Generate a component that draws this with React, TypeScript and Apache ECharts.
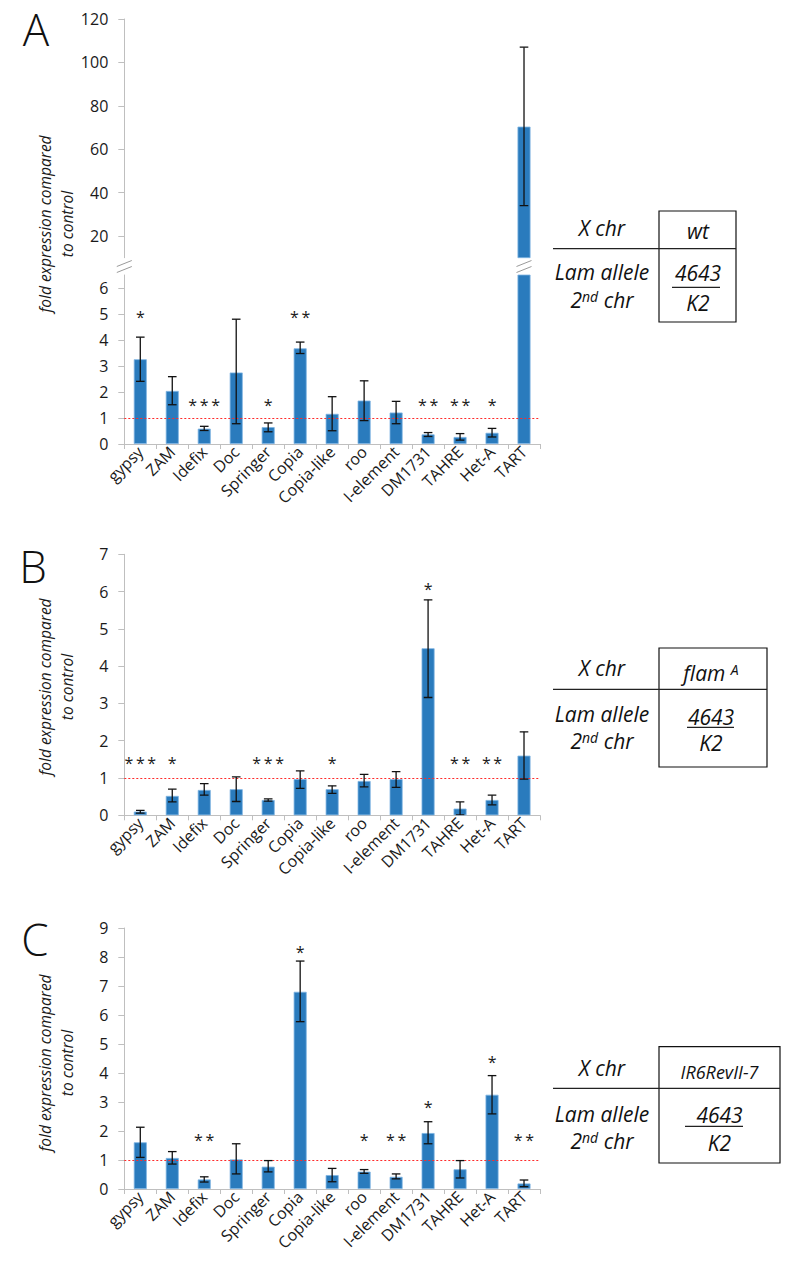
import React, { useEffect, useRef } from "react";
import * as echarts from "echarts";

const categories = ["gypsy", "ZAM", "Idefix", "Doc", "Springer", "Copia", "Copia-like", "roo", "I-element", "DM1731", "TAHRE", "Het-A", "TART"];

// Panel A  (X chr: wt)
const meanA = [3.26, 2.04, 0.59, 2.75, 0.65, 3.68, 1.16, 1.67, 1.21, 0.37, 0.27, 0.43, 70.4];
const upperA = [4.11, 2.59, 0.68, 4.8, 0.81, 3.92, 1.82, 2.43, 1.64, 0.44, 0.4, 0.6, 107];
const lowerA = [2.41, 1.51, 0.52, 0.78, 0.47, 3.48, 0.51, 0.9, 0.78, 0.29, 0.15, 0.27, 34];
const starsA = ["*", "", "***", "", "*", "**", "", "", "", "**", "**", "*", ""];
const starLevelA = [5.0, 0, 1.63, 0, 1.63, 5.0, 0, 0, 0, 1.63, 1.63, 1.63, 0];
const ticksATop = [20, 40, 60, 80, 100, 120];
const ticksABottom = [0, 1, 2, 3, 4, 5, 6];

// Panel B  (X chr: flam A)
const meanB = [0.1, 0.52, 0.68, 0.7, 0.41, 0.97, 0.7, 0.92, 0.97, 4.48, 0.18, 0.41, 1.6];
const upperB = [0.13, 0.7, 0.85, 1.03, 0.44, 1.19, 0.79, 1.1, 1.17, 5.78, 0.36, 0.54, 2.24];
const lowerB = [0.06, 0.36, 0.54, 0.37, 0.38, 0.72, 0.59, 0.76, 0.75, 3.16, 0.01, 0.28, 0.97];
const starsB = ["***", "*", "", "", "***", "", "*", "", "", "*", "**", "**", ""];
const starLevelB = [1.48, 1.48, 0, 0, 1.48, 0, 1.48, 0, 0, 6.16, 1.48, 1.48, 0];
const ticksB = [0, 1, 2, 3, 4, 5, 6, 7];

// Panel C  (X chr: IR6RevII-7)
const meanC = [1.61, 1.07, 0.33, 1.02, 0.77, 6.8, 0.48, 0.6, 0.42, 1.93, 0.68, 3.25, 0.19];
const upperC = [2.13, 1.29, 0.42, 1.56, 0.98, 7.86, 0.71, 0.67, 0.52, 2.32, 0.98, 3.91, 0.31];
const lowerC = [1.09, 0.86, 0.24, 0.52, 0.59, 5.77, 0.25, 0.54, 0.35, 1.56, 0.38, 2.59, 0.08];
const starsC = ["", "", "**", "", "", "*", "", "*", "**", "*", "", "*", "**"];
const starLevelC = [0, 0, 1.78, 0, 0, 8.28, 0, 1.78, 1.78, 2.94, 0, 4.47, 1.78];
const ticksC = [0, 1, 2, 3, 4, 5, 6, 7, 8, 9];

const controlLevel = 1;
const yTitle = "fold expression compared\nto control";

const FONT = "'Open Sans', 'Liberation Sans', sans-serif";
const AXIS_GREY = "#bfbfbf";
const TEXT = "#1a1a1a";
const BAR = "#2a7bbd";

const GRID_LEFT = 124.3;
const GRID_W = 415.7;

function makeX(gridIndex: number, show: boolean) {
  return {
    type: "category",
    gridIndex,
    data: categories,
    show,
    boundaryGap: true,
    axisLine: { show: true, lineStyle: { color: AXIS_GREY, width: 1 } },
    axisTick: { show: true, length: 5, lineStyle: { color: AXIS_GREY } },
    axisLabel: { show: true, rotate: 45, interval: 0, fontSize: 16, color: TEXT, fontFamily: FONT, margin: 5 },
    splitLine: { show: false },
  };
}

function makeY(gridIndex: number, min: number, max: number, ticks: number[]) {
  return {
    type: "value",
    gridIndex,
    min,
    max,
    axisLine: { show: true, lineStyle: { color: AXIS_GREY, width: 1 } },
    axisTick: { show: true, length: 6, customValues: ticks, lineStyle: { color: AXIS_GREY } },
    axisLabel: { customValues: ticks, fontSize: 16, color: TEXT, fontFamily: FONT, margin: 16 },
    splitLine: { show: false },
  };
}

function barSeries(idx: number, values: number[], withLine: boolean) {
  const s: any = {
    type: "bar",
    xAxisIndex: idx,
    yAxisIndex: idx,
    data: values,
    barWidth: 13,
    clip: true,
    itemStyle: { color: BAR, borderColor: "#7db4e2", borderWidth: 0.8 },
    silent: true,
  };
  if (withLine) {
    s.markLine = {
      silent: true,
      symbol: ["none", "none"],
      label: { show: false },
      lineStyle: { color: "#ff2a2a", type: [2, 2], width: 1, opacity: 1 },
      emphasis: { disabled: true },
      data: [{ yAxis: controlLevel }],
    };
  }
  return s;
}

function errorSeries(idx: number, lower: number[], upper: number[], keep: (i: number) => boolean) {
  const data: number[][] = [];
  lower.forEach((lo, i) => {
    if (keep(i)) data.push([i, lo, upper[i]]);
  });
  return {
    type: "custom",
    xAxisIndex: idx,
    yAxisIndex: idx,
    clip: true,
    silent: true,
    z: 5,
    encode: { x: 0, y: [1, 2] },
    data,
    renderItem: (_params: any, api: any) => {
      const x = api.value(0);
      const pHi = api.coord([x, api.value(2)]);
      const pLo = api.coord([x, api.value(1)]);
      const hw = 4.3;
      const style = { stroke: "#111", lineWidth: 1.3 };
      return {
        type: "group",
        children: [
          { type: "line", shape: { x1: pHi[0], y1: pHi[1], x2: pLo[0], y2: pLo[1] }, style },
          { type: "line", shape: { x1: pHi[0] - hw, y1: pHi[1], x2: pHi[0] + hw, y2: pHi[1] }, style },
          { type: "line", shape: { x1: pLo[0] - hw, y1: pLo[1], x2: pLo[0] + hw, y2: pLo[1] }, style },
        ],
      };
    },
  };
}

function starSeries(idx: number, stars: string[], levels: number[]) {
  const data: number[][] = [];
  const texts: string[] = [];
  stars.forEach((s, i) => {
    if (s) {
      data.push([i, levels[i]]);
      texts.push(s.split("").join("\u2009"));
    }
  });
  return {
    type: "custom",
    xAxisIndex: idx,
    yAxisIndex: idx,
    silent: true,
    z: 6,
    encode: { x: 0, y: 1 },
    data,
    renderItem: (params: any, api: any) => {
      const p = api.coord([api.value(0), api.value(1)]);
      return {
        type: "text",
        x: p[0],
        y: p[1] + 3,
        style: {
          text: texts[params.dataIndex],
          fill: TEXT,
          fontSize: 16,
          fontFamily: FONT,
          align: "center",
          verticalAlign: "middle",
        },
      };
    },
  };
}

function tableGraphics(cfg: {
  top: number; bottom: number; mid: number; right: number;
  rowX: number; rowY1: number; rowY2a: number; rowY2b: number;
  boxCx: number; labelY: number; label: string; labelSize: number; sup?: string;
  numY: number; fracY: number; fracX1: number; fracX2: number; denY: number;
}) {
  const boxLeft = 659;
  const ital = { fontStyle: "italic", fontFamily: FONT, fill: "#111" };
  const els: any[] = [
    { type: "rect", shape: { x: boxLeft, y: cfg.top, width: cfg.right - boxLeft, height: cfg.bottom - cfg.top }, style: { fill: "none", stroke: "#111", lineWidth: 1.2 } },
    { type: "line", shape: { x1: 553, y1: cfg.mid, x2: cfg.right, y2: cfg.mid }, style: { stroke: "#222", lineWidth: 1.2 } },
    { type: "text", x: cfg.rowX, y: cfg.rowY1, style: { text: "X chr", fontSize: 21, ...ital, align: "center", verticalAlign: "middle" } },
    { type: "text", x: cfg.rowX, y: cfg.rowY2a, style: { text: "Lam allele", fontSize: 21, ...ital, align: "center", verticalAlign: "middle" } },
    {
      type: "text", x: cfg.rowX, y: cfg.rowY2b,
      style: {
        text: "{a|2}{b|nd}{a| chr}",
        rich: { a: { fontSize: 21, ...ital }, b: { fontSize: 14, ...ital, verticalAlign: "top" } },
        align: "center", verticalAlign: "middle",
      },
    },
    cfg.sup
      ? {
          type: "text", x: cfg.boxCx, y: cfg.labelY,
          style: {
            text: "{a|" + cfg.label + " }{b|" + cfg.sup + "}",
            rich: { a: { fontSize: cfg.labelSize, ...ital }, b: { fontSize: 14, ...ital, verticalAlign: "top" } },
            align: "center", verticalAlign: "middle",
          },
        }
      : { type: "text", x: cfg.boxCx, y: cfg.labelY, style: { text: cfg.label, fontSize: cfg.labelSize, ...ital, align: "center", verticalAlign: "middle" } },
    { type: "text", x: cfg.boxCx, y: cfg.numY, style: { text: "4643", fontSize: 21, ...ital, align: "center", verticalAlign: "middle" } },
    { type: "line", shape: { x1: cfg.fracX1, y1: cfg.fracY, x2: cfg.fracX2, y2: cfg.fracY }, style: { stroke: "#222", lineWidth: 1.2 } },
    { type: "text", x: cfg.boxCx, y: cfg.denY, style: { text: "K2", fontSize: 21, ...ital, align: "center", verticalAlign: "middle" } },
  ];
  return els;
}

function breakMark(cx: number, cy: number) {
  const st = { stroke: "#9a9a9a", lineWidth: 1 };
  return [
    { type: "line", shape: { x1: cx - 7.5, y1: cy + 3, x2: cx + 7.5, y2: cy - 3 }, style: st },
    { type: "line", shape: { x1: cx - 7.5, y1: cy + 9, x2: cx + 7.5, y2: cy + 3 }, style: st },
  ];
}

function letter(t: string, x: number, y: number) {
  return { type: "text", x, y, style: { text: t, fontSize: 44, fontWeight: 300, fontFamily: FONT, fill: "#111", align: "center", verticalAlign: "middle" } };
}

function yTitleEl(cy: number) {
  return {
    type: "text",
    x: 56,
    y: cy,
    rotation: Math.PI / 2,
    style: { text: yTitle, fontSize: 15.5, fontStyle: "italic", fontFamily: FONT, fill: TEXT, align: "center", verticalAlign: "middle", lineHeight: 21.5 },
  };
}

export default function App() {
  const ref = useRef<HTMLDivElement>(null);
  useEffect(() => {
    document.body.style.margin = "0";
    if (!ref.current) return;
    const chart = echarts.init(ref.current, undefined, { renderer: "svg" });
    const broken = (i: number) => meanA[i] > 6.5;
    const option: any = {
      animation: false,
      backgroundColor: "#ffffff",
      grid: [
        { left: GRID_LEFT, top: 19, width: GRID_W, height: 238.7 },
        { left: GRID_LEFT, top: 275, width: GRID_W, height: 169 },
        { left: GRID_LEFT, top: 554.3, width: GRID_W, height: 261 },
        { left: GRID_LEFT, top: 928, width: GRID_W, height: 261 },
      ],
      xAxis: [makeX(0, false), makeX(1, true), makeX(2, true), makeX(3, true)],
      yAxis: [
        makeY(0, 10, 120, ticksATop),
        makeY(1, 0, 6.5, ticksABottom),
        makeY(2, 0, 7, ticksB),
        makeY(3, 0, 9, ticksC),
      ],
      series: [
        barSeries(0, meanA.map((v, i) => (broken(i) ? v : null)) as any, false),
        errorSeries(0, lowerA, upperA, broken),
        barSeries(1, meanA, true),
        errorSeries(1, lowerA, upperA, (i) => !broken(i)),
        starSeries(1, starsA, starLevelA),
        barSeries(2, meanB, true),
        errorSeries(2, lowerB, upperB, () => true),
        starSeries(2, starsB, starLevelB),
        barSeries(3, meanC, true),
        errorSeries(3, lowerC, upperC, () => true),
        starSeries(3, starsC, starLevelC),
      ],
      graphic: [
        letter("A", 36, 29),
        letter("B", 33, 566),
        letter("C", 35, 939),
        yTitleEl(224),
        yTitleEl(687),
        yTitleEl(1063),
        ...breakMark(124.3, 263.5),
        ...breakMark(GRID_LEFT + (GRID_W / 13) * 12.5, 263.5),
        ...tableGraphics({
          top: 211, bottom: 322, mid: 248.7, right: 736,
          rowX: 602, rowY1: 228, rowY2a: 272, rowY2b: 300,
          boxCx: 698, labelY: 231, label: "wt", labelSize: 21,
          numY: 273, fracY: 287.3, fracX1: 672, fracX2: 720, denY: 303,
        }),
        ...tableGraphics({
          top: 648, bottom: 767, mid: 689.3, right: 767,
          rowX: 602, rowY1: 668, rowY2a: 713.5, rowY2b: 741,
          boxCx: 711, labelY: 673, label: "flam", labelSize: 21, sup: "A",
          numY: 717, fracY: 727.3, fracX1: 687, fracX2: 734, denY: 743,
        }),
        ...tableGraphics({
          top: 1046.7, bottom: 1163, mid: 1088.3, right: 780,
          rowX: 602, rowY1: 1068, rowY2a: 1113.5, rowY2b: 1141,
          boxCx: 719.5, labelY: 1071.5, label: "IR6RevII-7", labelSize: 18,
          numY: 1115, fracY: 1126.3, fracX1: 685, fracX2: 743, denY: 1143,
        }),
      ],
    };
    chart.setOption(option);
    return () => chart.dispose();
  }, []);
  return <div ref={ref} style={{ width: 799, height: 1275 }} />;
}
